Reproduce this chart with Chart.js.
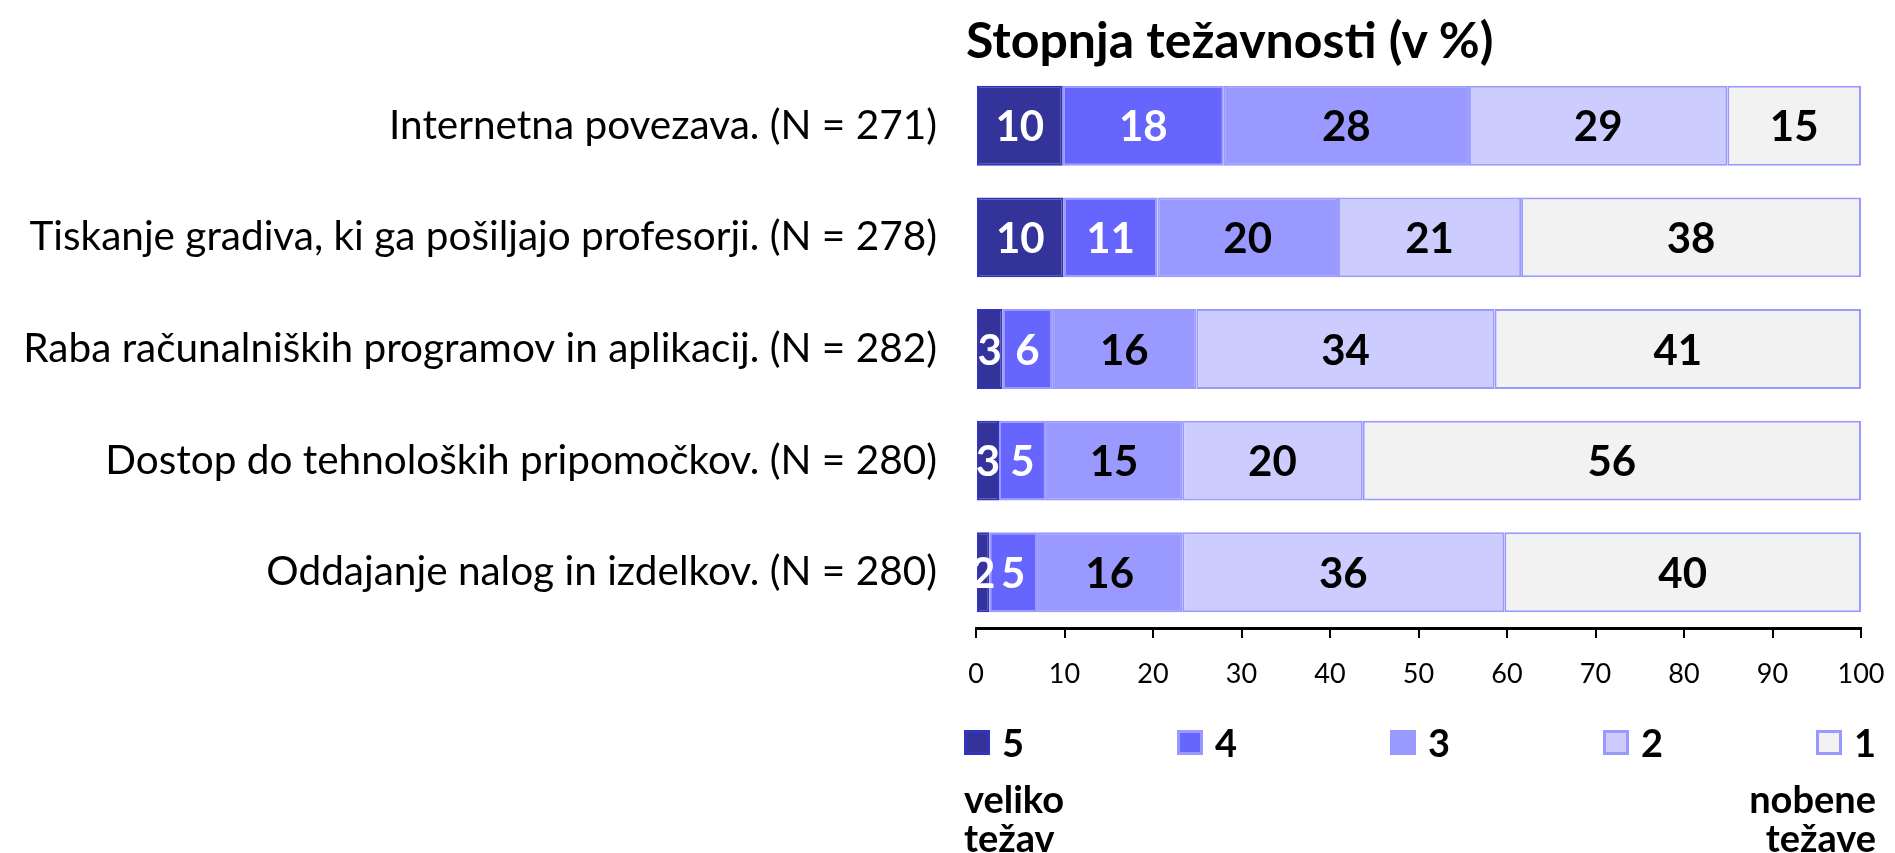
<!DOCTYPE html>
<html>
<head>
<meta charset="utf-8">
<script src="https://cdn.jsdelivr.net/npm/chart.js@4/dist/chart.umd.min.js"></script>
<style>
	body { margin: 0; background: #fff; }
	#wrap { position: relative; width: 1895px; height: 853px; font-family: Lato, sans-serif; color: #000; }
	#chart { position: absolute; left: 0; top: 0; }
	.title { position: absolute; left: 966px; top: 11px; font-size: 50px; font-weight: bold; line-height: 56px; white-space: nowrap; }
	.legend { position: absolute; left: 964px; width: 912px; top: 722px; display: flex; justify-content: space-between; font-weight: bold; font-size: 38px; line-height: 40px; }
	.legend-item { display: flex; align-items: center; }
	.box { width: 26px; height: 25px; box-sizing: border-box; border: 3px solid; margin-right: 12px; }
	.note { position: absolute; top: 779px; font-weight: bold; font-size: 38px; line-height: 39px; }
</style>
</head>
<body>
<div id="wrap">
	<canvas id="chart" width="1895" height="853"></canvas>
	<div class="title">Stopnja težavnosti (v %)</div>
	<div class="legend"></div>
	<div class="note" style="left: 964px;">veliko<br>težav</div>
	<div class="note" style="right: 19px; text-align: right;">nobene<br>težave</div>
</div>
<script>
const categories = [
	'Internetna povezava. (N = 271)',
	'Tiskanje gradiva, ki ga pošiljajo profesorji. (N = 278)',
	'Raba računalniških programov in aplikacij. (N = 282)',
	'Dostop do tehnoloških pripomočkov. (N = 280)',
	'Oddajanje nalog in izdelkov. (N = 280)',
];

const seriesNames = ['5', '4', '3', '2', '1'];

// shares in %
const level5 = [9.8, 9.9, 3.0, 2.6, 1.5];
const level4 = [18.2, 10.6, 5.6, 5.3, 5.4];
const level3 = [27.7, 20.4, 16.3, 15.4, 16.4];
const level2 = [29.2, 20.7, 33.7, 20.4, 36.4];
const level1 = [15.1, 38.4, 41.4, 56.3, 40.3];

const xTicks = [0, 10, 20, 30, 40, 50, 60, 70, 80, 90, 100];

const fillColors = ['#333399', '#6666FF', '#9999FF', '#CCCCFF', '#F2F2F2'];
const edgeColors = ['#3333BB', '#9999FF', '#9999FF', '#9999FF', '#9999FF'];
const labelColors = ['#FFFFFF', '#FFFFFF', '#000000', '#000000', '#000000'];

const seriesValues = [level5, level4, level3, level2, level1];

const datasets = seriesValues.map((values, i) => ({
	label: seriesNames[i],
	data: values,
	backgroundColor: fillColors[i],
	borderColor: edgeColors[i],
	borderWidth: 2,
	borderSkipped: false,
	barPercentage: 1,
	categoryPercentage: 0.716,
}));

const valueLabels = {
	id: 'valueLabels',
	afterDatasetsDraw(chart) {
		const { ctx } = chart;
		ctx.save();
		ctx.font = 'bold 42px Lato';
		ctx.textAlign = 'center';
		ctx.textBaseline = 'middle';
		chart.data.datasets.forEach((ds, i) => {
			const meta = chart.getDatasetMeta(i);
			meta.data.forEach((bar, j) => {
				ctx.fillStyle = labelColors[i];
				ctx.fillText(String(Math.round(ds.data[j])), (bar.x + bar.base) / 2, bar.y + 2);
			});
		});
		ctx.restore();
	},
};

const ctx = document.getElementById('chart');

new Chart(ctx, {
	type: 'bar',
	data: { labels: categories, datasets },
	options: {
		indexAxis: 'y',
		responsive: false,
		animation: false,
		layout: { padding: { top: 70, right: 34, left: 0, bottom: 0 } },
		plugins: {
			legend: { display: false },
			tooltip: { enabled: false },
		},
		scales: {
			x: {
				stacked: true,
				min: 0,
				max: 100,
				afterBuildTicks(scale) {
					scale.ticks = xTicks.map(v => ({ value: v }));
				},
				ticks: { color: '#000', font: { family: 'Lato', size: 27 }, padding: 20, maxRotation: 0 },
				grid: { drawOnChartArea: false, color: '#000', tickLength: 10, lineWidth: 2 },
				border: { color: '#000', width: 3 },
				afterFit(scale) {
					scale.height = 225;
					// the "100" label may hang past the plot edge, like the original
					scale.paddingLeft = 0;
					scale.paddingRight = 0;
				},
			},
			y: {
				stacked: true,
				grid: { display: false, drawTicks: false },
				border: { display: false },
				ticks: { color: '#000', font: { family: 'Lato', size: 40.5 }, padding: 39 },
				afterFit(scale) { scale.width = 976; },
			},
		},
	},
	plugins: [valueLabels],
});

const legendContainer = document.querySelector('.legend');

seriesNames.forEach((name, i) => {
	const item = document.createElement('span');
	item.setAttribute('class', 'legend-item');

	const box = document.createElement('span');
	box.setAttribute('class', 'box');
	box.style.backgroundColor = fillColors[i];
	box.style.borderColor = edgeColors[i];

	item.appendChild(box);
	item.appendChild(document.createTextNode(name));
	legendContainer.appendChild(item);
});
</script>
</body>
</html>
